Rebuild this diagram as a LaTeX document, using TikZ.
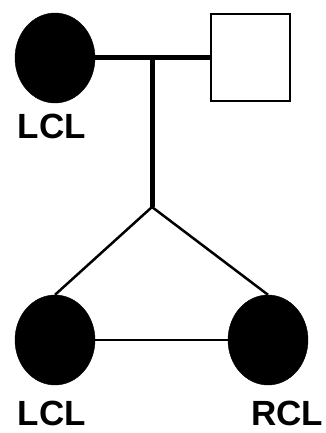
\documentclass[tikz,border=0pt]{standalone}
\usepackage{fontspec}
\setmainfont{Liberation Sans}
\usetikzlibrary{shapes.geometric}
\tikzset{
  female/.style={ellipse, fill=black, draw=black, minimum width=80pt, minimum height=90pt, inner sep=0pt},
  male/.style={rectangle, fill=white, draw=black, line width=2pt, minimum width=79pt, minimum height=87pt, inner sep=0pt},
  lbl/.style={font=\fontsize{35}{35}\selectfont\bfseries, inner sep=0pt}
}
\begin{document}
\begin{tikzpicture}[x=1pt,y=1pt]
      \useasboundingbox (0,0) rectangle (325,433);
      \node[female] (mo) at (55,375) {};
      \node[male] (fa) at (250,375) {};
      \node[lbl] (lmo) at (52,307) {LCL};
      \coordinate (mid) at (152,375);
      \coordinate (sib) at (152,226);
      \node[female] (c1) at (55,93) {};
      \node[female] (c2) at (268,93) {};
      \node[lbl] (lc1) at (52,20) {LCL};
      \node[lbl] (lc2) at (287,20) {RCL};
      \draw [line width=5pt] (mo) -- (fa);
      \draw [line width=5pt] (mid) -- (sib);
      \draw [line width=2.5pt] (sib) -- (c1.north);
      \draw [line width=2.5pt] (sib) -- (c2.north);
      \draw [line width=2.5pt] (c1) -- (c2);
    \end{tikzpicture}
\end{document}
